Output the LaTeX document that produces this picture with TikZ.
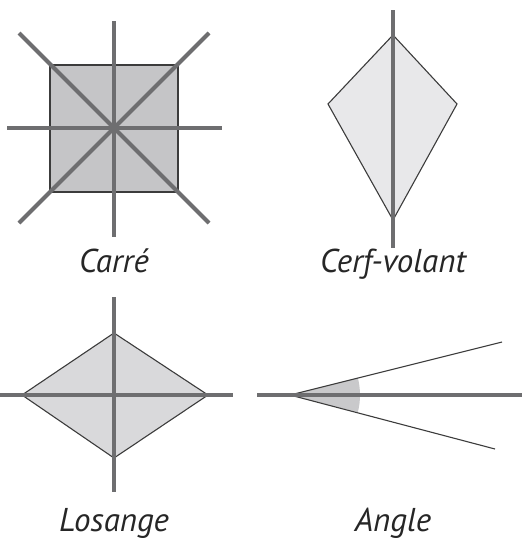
\documentclass[tikz,border=0pt]{standalone}
\usepackage{fontspec}
\setmainfont{PT Sans}
\definecolor{axisgray}{HTML}{6E6E70}
\definecolor{edgegray}{HTML}{3C3C3C}
\definecolor{sqfill}{HTML}{C5C5C7}
\definecolor{kitefill}{HTML}{E8E8EA}
\definecolor{rhfill}{HTML}{D9D9DB}
\definecolor{angfill}{HTML}{C9C9CB}
\tikzset{
  axisline/.style={draw=axisgray,line width=4pt},
  shapeedge/.style={draw=edgegray,line width=1.1pt,line join=miter},
  raytline/.style={draw=edgegray,line width=1.1pt},
  caption/.style={anchor=base,font=\fontsize{33}{36}\selectfont\itshape,text=black!85,inner sep=0pt}
}
\begin{document}
\begin{tikzpicture}[x=1pt,y=-1pt]
\useasboundingbox (0,0) rectangle (522,541);
% Carre
\draw[shapeedge,fill=sqfill] (50,65) rectangle (178,192);
\draw[axisline] (114,21) -- (114,237);
\draw[axisline] (7,128) -- (222,128);
\draw[axisline] (19,33) -- (209,223);
\draw[axisline] (209,33) -- (19,223);
\node[caption] (carre) at (114,272) {Carré};
% Cerf-volant
\draw[shapeedge,fill=kitefill] (393,35) -- (457,104) -- (393,220) -- (328,104) -- cycle;
\draw[axisline] (393,10) -- (393,248);
\node[caption] (cerf) at (393,272) {Cerf-volant};
% Losange
\draw[shapeedge,fill=rhfill] (114,333) -- (208,395) -- (114,458) -- (22,395) -- cycle;
\draw[axisline] (114,297) -- (114,492);
\draw[axisline] (0,395) -- (233,395);
\node[caption] (losange) at (114,531) {Losange};
% Angle
\coordinate (v) at (290,395);
\fill[angfill] (v) -- ++(-14.3:70) arc[start angle=-14.3,end angle=14.3,radius=70] -- cycle;
\draw[raytline] (v) -- (502,342);
\draw[raytline] (v) -- (495,449);
\draw[axisline] (257,395) -- (522,395);
\node[caption] (angle) at (393,531) {Angle};
\end{tikzpicture}
\end{document}
